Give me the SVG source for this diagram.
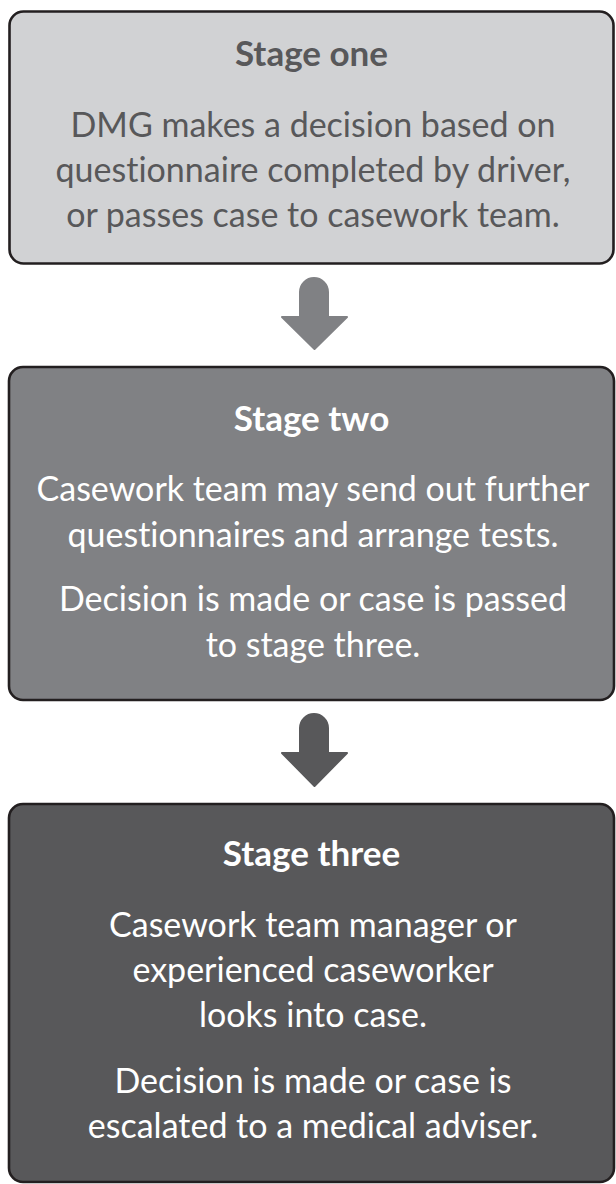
<svg xmlns="http://www.w3.org/2000/svg" width="616" height="1184" viewBox="0 0 616 1184">
<style>
.box{stroke:#231f20;stroke-width:2.6}
.t{font-family:Lato,"Open Sans","Liberation Sans",sans-serif;text-anchor:middle;font-variant-ligatures:none;font-feature-settings:"liga" 0,"clig" 0,"dlig" 0}
.h{font-weight:bold;font-size:35px}
.b{font-size:34px}
.dark{fill:#58585a}
.light{fill:#ffffff}
</style>
<rect width="616" height="1184" fill="#ffffff"/>
<g id="connectors">
  <path d="M300,317 V292 A14,14 0 0 1 328,292 V317 H347 L314.5,349 L282,317 Z" fill="#808184" stroke="#808184" stroke-width="2" stroke-linejoin="round"/>
  <path d="M300,753 V728 A14,14 0 0 1 328,728 V753 H347 L314.5,786 L282,753 Z" fill="#58585a" stroke="#58585a" stroke-width="2" stroke-linejoin="round"/>
</g>
<g id="stage1">
  <rect class="box" x="9.5" y="11.5" width="604" height="252" rx="14" fill="#d1d2d4"/>
  <text class="t h dark" x="311.5" y="66">Stage one</text>
  <text class="t b dark" x="313" y="137">DMG makes a decision based on</text>
  <text class="t b dark" x="313" y="182">questionnaire completed by driver,</text>
  <text class="t b dark" x="313" y="227">or passes case to casework team.</text>
</g>
<g id="stage2">
  <rect class="box" x="9" y="367" width="605" height="333" rx="14" fill="#808184"/>
  <text class="t h light" x="311.5" y="431">Stage two</text>
  <text class="t b light" x="313" y="501">Casework team may send out further</text>
  <text class="t b light" x="313" y="547">questionnaires and arrange tests.</text>
  <text class="t b light" x="313" y="611">Decision is made or case is passed</text>
  <text class="t b light" x="313" y="657">to stage three.</text>
</g>
<g id="stage3">
  <rect class="box" x="9" y="804" width="605" height="378" rx="14" fill="#58585a"/>
  <text class="t h light" x="311.5" y="866">Stage three</text>
  <text class="t b light" x="313" y="937">Casework team manager or</text>
  <text class="t b light" x="313" y="982">experienced caseworker</text>
  <text class="t b light" x="313" y="1027">looks into case.</text>
  <text class="t b light" x="313" y="1093">Decision is made or case is</text>
  <text class="t b light" x="313" y="1138">escalated to a medical adviser.</text>
</g>
</svg>
